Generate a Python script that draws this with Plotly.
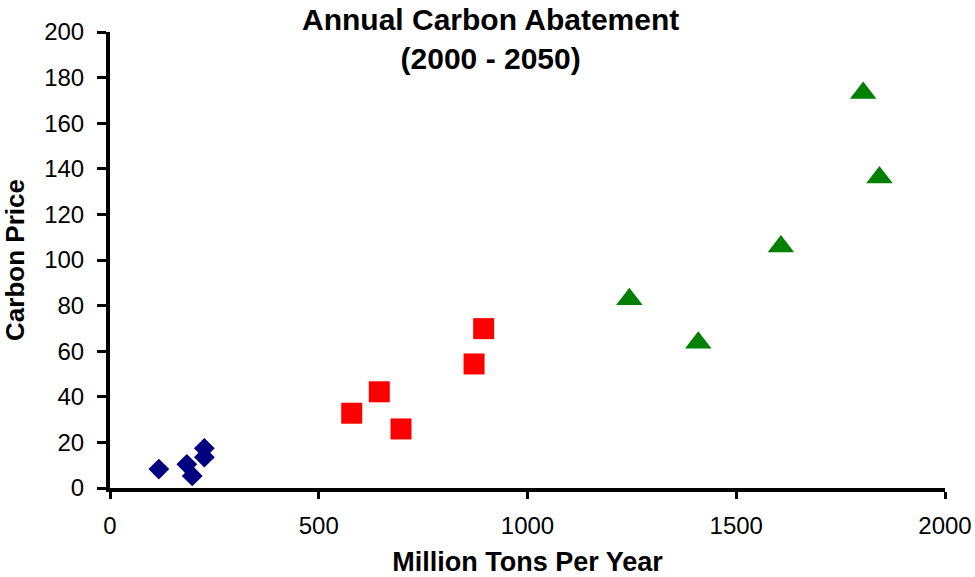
import plotly.graph_objects as go

# Abatement (million tons/yr) vs carbon price, grouped by period
early_x = [117, 184, 197, 226, 226]
early_y = [8.3, 10.4, 5.3, 17.4, 13.5]

mid_x = [579, 645, 697, 872, 895]
mid_y = [32.8, 42.2, 25.9, 54.4, 69.9]

late_x = [1804, 1843, 1607, 1244, 1409]
late_y = [173.3, 136.2, 105.9, 82.8, 63.7]

x_ticks = [0, 500, 1000, 1500, 2000]
y_ticks = list(range(0, 201, 20))

FONT = "Liberation Sans, Arial, sans-serif"
PLOT_H = 577 - 32 - 89

fig = go.Figure()
fig.add_trace(go.Scatter(x=early_x, y=early_y, mode="markers",
                         marker=dict(symbol="diamond", size=16, color="#000080"),
                         showlegend=False))
fig.add_trace(go.Scatter(x=mid_x, y=mid_y, mode="markers",
                         marker=dict(symbol="square", size=21, color="#FF0000"),
                         showlegend=False))
fig.add_trace(go.Scatter(x=late_x, y=late_y, mode="markers",
                         marker=dict(symbol="triangle-up", size=23, color="#008000"),
                         showlegend=False))

fig.update_layout(
    width=975, height=577,
    margin=dict(l=110, r=30, t=32, b=89, autoexpand=False),
    paper_bgcolor="white", plot_bgcolor="white",
    font=dict(family=FONT, color="black"),
    annotations=[dict(
        text="<b>Annual Carbon Abatement<br>(2000 - 2050)</b>",
        font=dict(size=30, family=FONT, color="black"),
        xref="paper", yref="paper",
        x=(490 - 110) / (945 - 110), y=1 + 31 / PLOT_H,
        xanchor="center", yanchor="top", showarrow=False,
    )],
)

fig.update_xaxes(
    range=[0, 2000], tickvals=x_ticks, ticktext=[str(v) for v in x_ticks],
    showgrid=False, zeroline=False, automargin=False,
    showline=True, linecolor="black", linewidth=4,
    ticks="outside", ticklen=7, tickwidth=3, tickcolor="black",
    tickfont=dict(size=24, family=FONT, color="black"),
    ticklabelstandoff=6,
    title=dict(text="<b>Million Tons Per Year</b>",
               font=dict(size=27, family=FONT, color="black"), standoff=16),
)
fig.update_yaxes(
    range=[0, 200], tickvals=y_ticks, ticktext=[str(v) for v in y_ticks],
    showgrid=False, zeroline=False, automargin=False,
    showline=True, linecolor="black", linewidth=4,
    ticks="outside", ticklen=9, tickwidth=3, tickcolor="black",
    tickfont=dict(size=24, family=FONT, color="black"),
    ticklabelstandoff=8,
    title=dict(text="<b>Carbon Price</b>",
               font=dict(size=26, family=FONT, color="black"), standoff=14),
)

fig.write_html("out.html")
